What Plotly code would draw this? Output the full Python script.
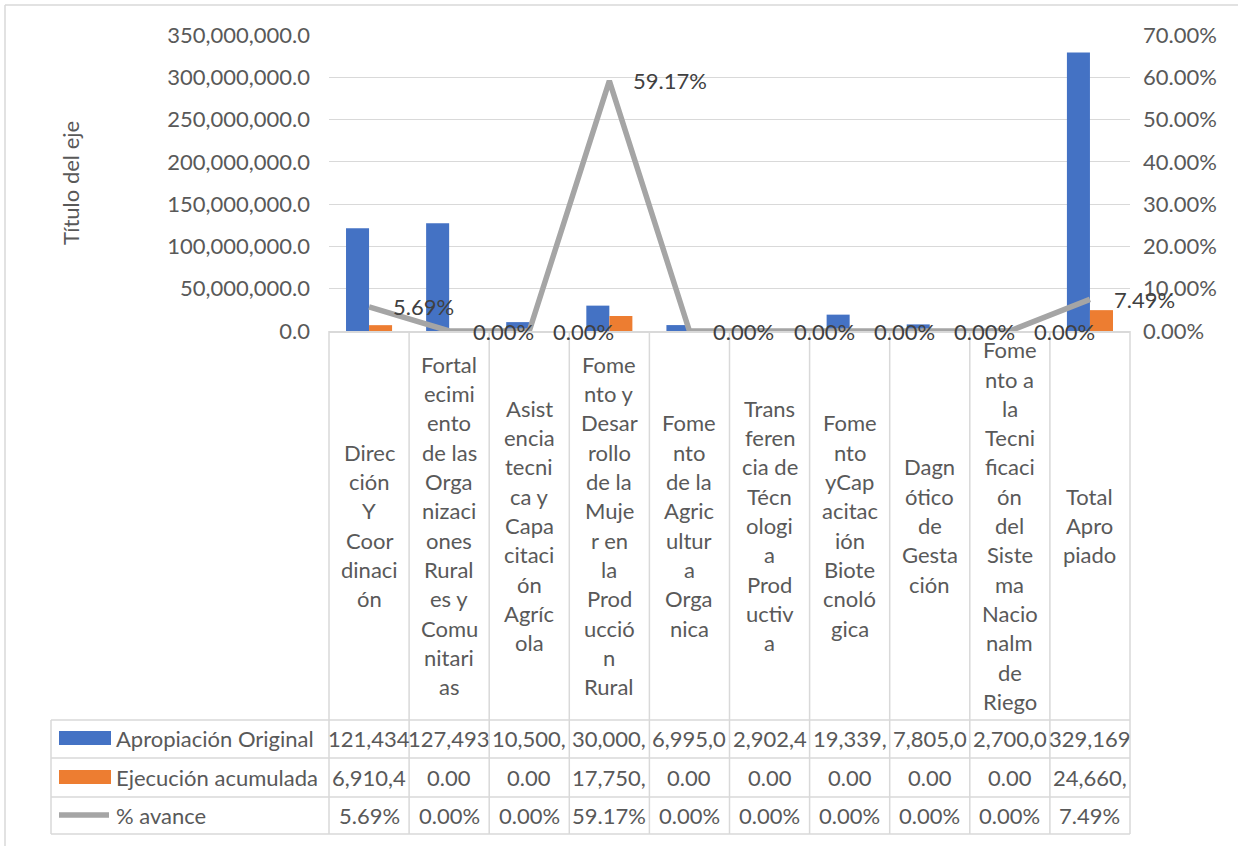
import plotly.graph_objects as go

# ---------------- data ----------------
category_lines = [
    "Direc|ción|Y|Coor|dinaci|ón",
    "Fortal|ecimi|ento|de las|Orga|nizaci|ones|Rural|es y|Comu|nitari|as",
    "Asist|encia|tecni|ca y|Capa|citaci|ón|Agríc|ola",
    "Fome|nto y|Desar|rollo|de la|Muje|r en|la|Prod|ucció|n|Rural",
    "Fome|nto|de la|Agric|ultur|a|Orga|nica",
    "Trans|feren|cia de|Técn|ologi|a|Prod|uctiv|a",
    "Fome|nto|yCap|acitac|ión|Biote|cnoló|gica",
    "Dagn|ótico|de|Gesta|ción",
    "Fome|nto a|la|Tecni|ficaci|ón|del|Siste|ma|Nacio|nalm|de|Riego",
    "Total|Apro|piado",
]
series_names = ["Apropiación Original", "Ejecución acumulada", "% avance"]
apropiacion = [121434000, 127493000, 10500000, 30000000, 6995000,
               2902400, 19339000, 7805000, 2700000, 329169000]
ejecucion = [6910400, 0, 0, 17750000, 0, 0, 0, 0, 0, 24660400]
avance = [5.69, 0.00, 0.00, 59.17, 0.00, 0.00, 0.00, 0.00, 0.00, 7.49]
left_ticks = [0, 50e6, 100e6, 150e6, 200e6, 250e6, 300e6, 350e6]
right_ticks = [0, 10, 20, 30, 40, 50, 60, 70]
axis_title = "Título del eje"

# ---------------- style ----------------
W, H = 1238, 846
PL, PR, PT, PB = 329, 1130, 35, 331  # plot area in pixels
FONT = "Lato"
FS = 22
BLUE, ORANGE, GRAY = "#4472C4", "#ED7D31", "#A5A5A5"
TXT, TXT2 = "#595959", "#404040"
GRID = "#D9D9D9"

def px(x):
    return (x - PL) / (PR - PL)

def py(y):
    return (PB - y) / (PB - PT)

cats = category_lines
n = len(cats)

fig = go.Figure()
fig.add_trace(go.Bar(x=cats, y=apropiacion, name=series_names[0],
                     marker=dict(color=BLUE, line=dict(width=0))))
fig.add_trace(go.Bar(x=cats, y=ejecucion, name=series_names[1],
                     marker=dict(color=ORANGE, line=dict(width=0))))
fig.add_trace(go.Scatter(x=cats, y=avance, name=series_names[2], yaxis="y2",
                         mode="lines", line=dict(color=GRAY, width=5.5)))

annotations = []
shapes = []

# data labels on the line
for c, v in zip(cats, avance):
    annotations.append(dict(x=c, y=v, xref="x", yref="y2", text=f"{v:.2f}%",
                            showarrow=False, xanchor="left", yanchor="middle",
                            xshift=22, font=dict(family=FONT, size=FS, color=TXT2)))

# category labels (wrapped lines) below the plot
LS = 29.3
cy = (PB + 720) / 2
for c in cats:
    lines = c.split("|")
    m = len(lines)
    for k, t in enumerate(lines):
        yy = cy + (k - (m - 1) / 2) * LS
        annotations.append(dict(x=c, y=py(yy), xref="x", yref="paper", text=t,
                                showarrow=False, xanchor="center", yanchor="middle",
                                font=dict(family=FONT, size=FS, color=TXT)))

# data table
row_edges = [720, 758, 797, 834]
row_centers = [(row_edges[i] + row_edges[i + 1]) / 2 for i in range(3)]

def cell(v):
    return "0.00" if v == 0 else f"{v:,.1f}"[:7]

rows = [[cell(v) for v in apropiacion], [cell(v) for v in ejecucion],
        [f"{v:.2f}%" for v in avance]]
for r, vals in enumerate(rows):
    for c, t in zip(cats, vals):
        annotations.append(dict(x=c, y=py(row_centers[r]), xref="x", yref="paper",
                                text=t, showarrow=False, xanchor="center",
                                yanchor="middle",
                                font=dict(family=FONT, size=FS, color=TXT)))
    annotations.append(dict(x=px(114), y=py(row_centers[r]), xref="paper",
                            yref="paper", text=series_names[r], showarrow=False,
                            xanchor="left", yanchor="middle",
                            font=dict(family=FONT, size=FS, color=TXT)))

# legend keys
shapes.append(dict(type="rect", xref="paper", yref="paper", x0=px(59), x1=px(111),
                   y0=py(731), y1=py(745), fillcolor=BLUE, line=dict(width=0)))
shapes.append(dict(type="rect", xref="paper", yref="paper", x0=px(59), x1=px(111),
                   y0=py(770), y1=py(784), fillcolor=ORANGE, line=dict(width=0)))
shapes.append(dict(type="line", xref="paper", yref="paper", x0=px(59), x1=px(109),
                   y0=py(815), y1=py(815), line=dict(color=GRAY, width=5.5)))

# table grid
TL = 51
for ye in row_edges:
    shapes.append(dict(type="line", xref="paper", yref="paper", x0=px(TL), x1=1,
                       y0=py(ye), y1=py(ye), line=dict(color=GRID, width=1.5)))
for k in range(n + 1):
    shapes.append(dict(type="line", xref="paper", yref="paper", x0=k / n, x1=k / n,
                       y0=py(PB), y1=py(834), line=dict(color=GRID, width=1.5)))
shapes.append(dict(type="line", xref="paper", yref="paper", x0=px(TL), x1=px(TL),
                   y0=py(720), y1=py(834), line=dict(color=GRID, width=1.5)))

# chart border
shapes.append(dict(type="line", xref="paper", yref="paper", x0=px(5), x1=px(1240),
                   y0=py(5), y1=py(5), line=dict(color=GRID, width=1.5)))
shapes.append(dict(type="line", xref="paper", yref="paper", x0=px(5), x1=px(5),
                   y0=py(5), y1=py(850), line=dict(color=GRID, width=1.5)))

# axis title
annotations.append(dict(x=px(70), y=py((PT + PB) / 2), xref="paper", yref="paper",
                        text=axis_title, textangle=-90, showarrow=False,
                        xanchor="center", yanchor="middle",
                        font=dict(family=FONT, size=FS, color=TXT)))

fig.update_layout(
    width=W, height=H,
    margin=dict(l=PL, r=W - PR, t=PT, b=H - PB, pad=0),
    paper_bgcolor="white", plot_bgcolor="white",
    barmode="group", bargap=0.425, bargroupgap=0,
    showlegend=False,
    font=dict(family=FONT, size=FS, color=TXT),
    xaxis=dict(type="category", showticklabels=False, ticks="", showgrid=False,
               showline=True, linecolor=GRID, linewidth=1.5, zeroline=False,
               range=[-0.5, n - 0.5]),
    yaxis=dict(range=[0, 350e6], tickvals=left_ticks,
               ticktext=[f"{v:,.1f}" for v in left_ticks],
               showgrid=True, gridcolor=GRID, gridwidth=1, zeroline=False,
               showline=False, ticks="", ticklabelstandoff=18,
               tickfont=dict(family=FONT, size=FS, color=TXT)),
    yaxis2=dict(range=[0, 70], tickvals=right_ticks,
                ticktext=[f"{v:.2f}%" for v in right_ticks],
                overlaying="y", side="right", showgrid=False,
                zeroline=False, showline=False, ticks="", ticklabelstandoff=12,
                tickfont=dict(family=FONT, size=FS, color=TXT)),
    annotations=annotations,
    shapes=shapes,
)

fig.write_html("out.html", config={"displayModeBar": False},
               post_script="document.body.style.margin='0';document.body.style.overflow='hidden';")
